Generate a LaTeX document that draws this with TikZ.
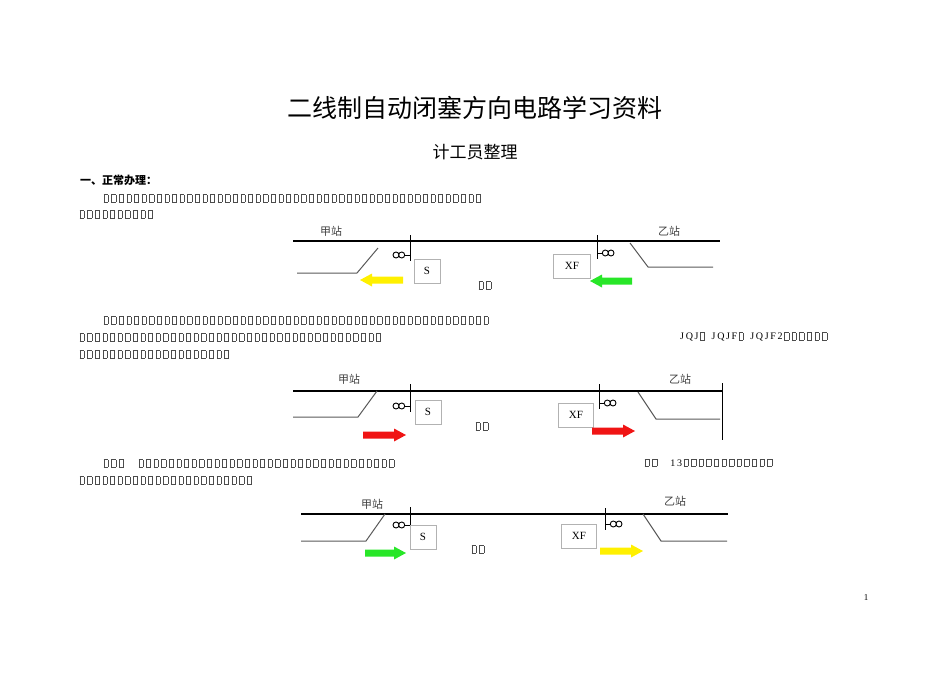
\documentclass[tikz,border=0pt]{standalone}
\usepackage{fontspec}
\newfontfamily\cjk{Noto Sans CJK SC}
\setmainfont{Liberation Serif}
\newcommand\onebx{\kern1.5pt{\color{black!70}\vbox{\hrule width 4.6pt height .25pt\hbox{\vrule width .25pt height 7pt\kern4.1pt\vrule width .25pt}\hrule height .25pt}}\kern1.5pt}
\newcommand\bxs[1]{\foreach\i in{1,...,#1}{\onebx}}
\tikzset{
 txt/.style={anchor=west,inner sep=0,font=\fontsize{10}{12}\selectfont},
 stn/.style={inner sep=0,font=\cjk\fontsize{11}{13}\selectfont,text=black!75},
 main/.style={line width=1.3pt},
 side/.style={line width=1pt,black!65},
 tick/.style={line width=.6pt},
 sbox/.style={draw=black!30,line width=.6pt,minimum height=24pt,inner sep=0,font=\fontsize{11}{13}\selectfont},
}
\newcommand\sigL[2]{%
 \draw[tick] (#1,#2-6) -- (#1,#2+6) (#1,#2) -- (#1-5,#2);
 \draw[line width=.9pt] (#1-8.3,#2) circle (3) (#1-14,#2) circle (3);}
\newcommand\sigR[2]{%
 \draw[tick] (#1,#2-6) -- (#1,#2+6) (#1,#2) -- (#1+5,#2);
 \draw[line width=.9pt] (#1+8.3,#2) circle (3) (#1+14,#2) circle (3);}
\newcommand\arrR[4]{\fill[#4] (#1,#3-3.5) -- (#2-12,#3-3.5) -- (#2-12,#3-6.5) -- (#2,#3) -- (#2-12,#3+6.5) -- (#2-12,#3+3.5) -- (#1,#3+3.5) -- cycle;}
\newcommand\arrL[4]{\fill[#4] (#2,#3-3.5) -- (#1+12,#3-3.5) -- (#1+12,#3-6.5) -- (#1,#3) -- (#1+12,#3+6.5) -- (#1+12,#3+3.5) -- (#2,#3+3.5) -- cycle;}
\definecolor{yel}{RGB}{255,240,0}
\definecolor{grn}{RGB}{40,230,40}
\definecolor{rd}{RGB}{240,20,20}
\begin{document}
\begin{tikzpicture}[x=1pt,y=-1pt]
\useasboundingbox (0,0) rectangle (950,672);
\node[font=\cjk\fontsize{25}{28}\selectfont] (title) at (475,108) {二线制自动闭塞方向电路学习资料};
\node[font=\cjk\fontsize{17}{20}\selectfont] (sub) at (475,152) {计工员整理};
\node[txt,font=\cjk\bfseries\fontsize{11}{13}\selectfont] (h1) at (80,180) {一、正常办理：};
\node[txt] (p1a) at (102,198) {\bxs{50}};
\node[txt] (p1b) at (78,214) {\bxs{10}};
% diagram 1
\node[stn] (ja1) at (331,231) {甲站};
\node[stn] (yi1) at (669,231) {乙站};
\draw[main] (293,241) -- (720,241);
\draw[side] (297,273) -- (357,273) -- (378,248);
\draw[side] (630,243) -- (648,267) -- (713,267);
\sigL{410}{255} \draw[tick] (410,235) -- (410,249);
\sigR{597}{253} \draw[tick] (597,235) -- (597,247);
\node[sbox,minimum width=26pt] (s1) at (427,271) {S};
\node[sbox,minimum width=37pt] (x1) at (572,266) {XF};
\arrL{360}{403}{280}{yel}
\arrL{590}{632}{281}{grn}
\node[txt] (c1) at (477,285) {\bxs{2}};
% para 2
\node[txt] (p2a) at (102,320) {\bxs{51}};
\node[txt] (p2b) at (78,337) {\bxs{40}};
\node[txt] (p2c) at (680,337) {J\,Q\,J\onebx\;\;J\,Q\,J\,F\onebx\;\;J\,Q\,J\,F\,2\bxs{6}};
\node[txt] (p2d) at (78,354) {\bxs{20}};
% diagram 2
\node[stn] (ja2) at (349,379) {甲站};
\node[stn] (yi2) at (680,379) {乙站};
\draw[main] (293,391) -- (722,391);
\draw[tick] (722,383) -- (722,440);
\draw[side] (293,417) -- (358,417) -- (377,391);
\draw[side] (638,392) -- (656,419) -- (720,419);
\sigL{410}{406} \draw[tick] (410,384) -- (410,400);
\sigR{599}{403} \draw[tick] (599,384) -- (599,397);
\node[sbox,minimum width=26pt] (s2) at (428,412) {S};
\node[sbox,minimum width=35pt] (x2) at (576,415) {XF};
\arrR{363}{406}{435}{rd}
\arrR{592}{635}{431}{rd}
\node[txt] (c2) at (474,426) {\bxs{2}};
% para 3
\node[txt] (p3a) at (102,463) {\bxs{3}\hspace{12pt}\bxs{34}};
\node[txt] (p3b) at (643,463) {\bxs{2}\hspace{12pt}1\,3\bxs{12}};
\node[txt] (p3c) at (78,480) {\bxs{23}};
% diagram 3
\node[stn] (ja3) at (372,504) {甲站};
\node[stn] (yi3) at (675,501) {乙站};
\draw[main] (301,514) -- (728,514);
\draw[side] (301,541) -- (366,541) -- (385,514);
\draw[side] (643,514) -- (661,541) -- (727,541);
\sigL{410}{525} \draw[tick] (410,507) -- (410,520);
\sigR{605}{524} \draw[tick] (605,508) -- (605,518);
\node[sbox,minimum width=26pt] (s3) at (423,537) {S};
\node[sbox,minimum width=35pt] (x3) at (579,536) {XF};
\arrR{365}{406}{553}{grn}
\arrR{600}{643}{551}{yel}
\node[txt] (c3) at (470,549) {\bxs{2}};
\node[font=\fontsize{9}{11}\selectfont] (pg) at (866,598) {1};
\end{tikzpicture}
\end{document}
